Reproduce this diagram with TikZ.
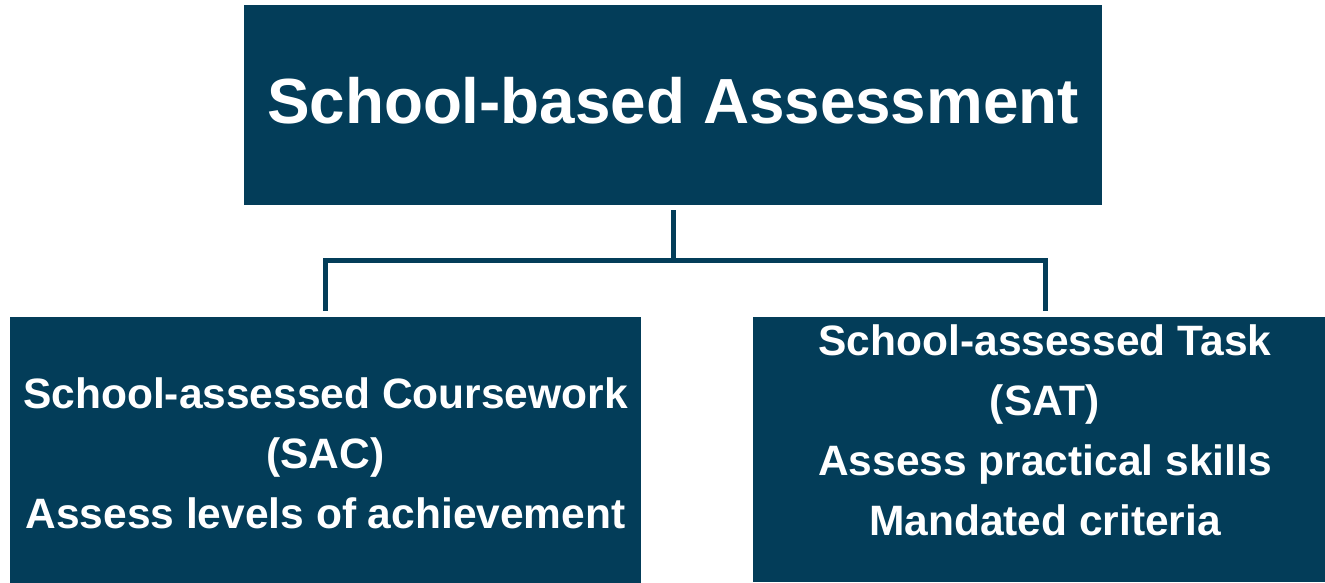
\documentclass[tikz,border=0pt]{standalone}
\usepackage{fontspec}
\setmainfont{Liberation Sans}
\definecolor{sbanavy}{RGB}{3,61,89}
\tikzset{
  box/.style={fill=sbanavy, text=white, font=\bfseries, align=center, inner sep=0pt},
  sub/.style={font=\bfseries\fontsize{42.5}{60}\selectfont},
  link/.style={draw=sbanavy, line width=5pt},
}
\begin{document}
\begin{tikzpicture}[x=1pt, y=-1pt]
        \useasboundingbox (0,0) rectangle (1325,582);

        \node[box, minimum width=858, minimum height=200, text depth=10pt, font=\bfseries\fontsize{63.8}{78}\selectfont] (sba) at (673,105) {School-based Assessment};

        \node[box, sub, minimum width=631, minimum height=272] (sac) at (325.5,453)
          {School-assessed Coursework\\(SAC)\\Assess levels of achievement};

        \fill[sbanavy] (753,317) rectangle (1337,582);
        \node[box, sub, fill=none] (sat) at (1045,430)
          {School-assessed Task\\(SAT)\\Assess practical skills\\Mandated criteria};
        \coordinate (satbox) at (1045,317);

        \coordinate (fork) at (673,260);
        \draw[link] ([yshift=-5pt]sba.south) -- (fork);
        \draw[link] ([yshift=6pt]sac.north) |- (fork) -| ([yshift=6pt]satbox);
      \end{tikzpicture}
\end{document}
